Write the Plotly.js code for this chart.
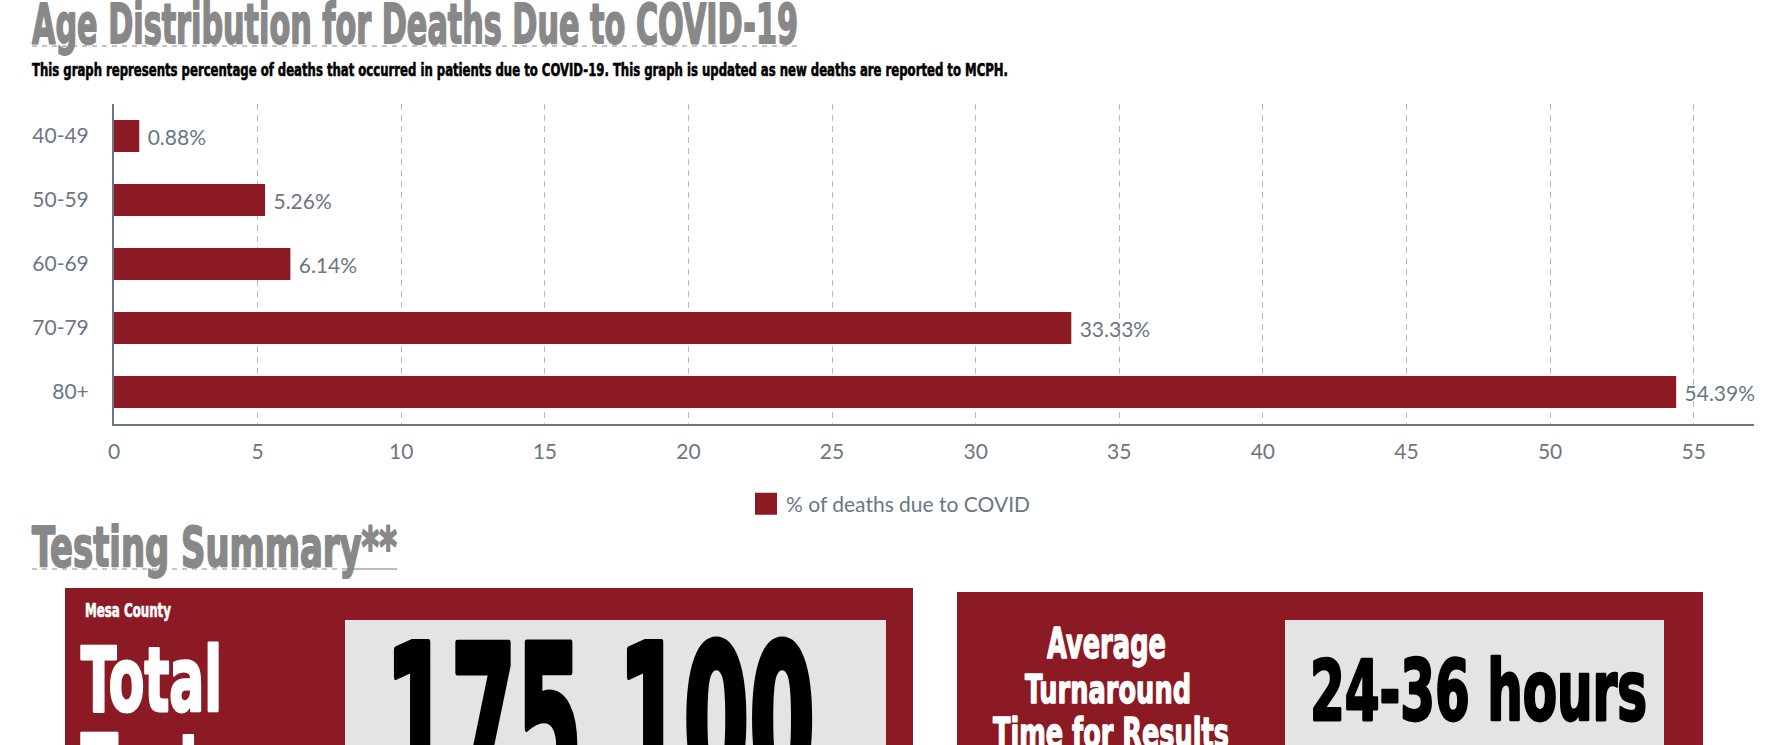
<!DOCTYPE html>
<html>
<head>
<meta charset="utf-8">
<script src="https://cdn.plot.ly/plotly-3.0.1.min.js"></script>
<style>
  html, body { margin:0; padding:0; background:#ffffff; width:1781px; height:745px; overflow:hidden; }
  #chart { position:absolute; left:0; top:0; width:1781px; height:540px; }
  #overlay { position:absolute; left:0; top:0; width:1781px; height:745px; pointer-events:none; }
</style>
</head>
<body>
<div id="chart"></div>
<svg id="overlay" xmlns="http://www.w3.org/2000/svg" width="1781" height="745"></svg>
<script>
// ---------------- data ----------------
const ageGroups = ['40-49', '50-59', '60-69', '70-79', '80+'];
const deathPct = [0.88, 5.26, 6.14, 33.33, 54.39];
const xTickVals = [0, 5, 10, 15, 20, 25, 30, 35, 40, 45, 50, 55];
const seriesName = '% of deaths due to COVID';

const pageTitle = 'Age Distribution for Deaths Due to COVID-19';
const pageSubtitle = 'This graph represents percentage of deaths that occurred in patients due to COVID-19. This graph is updated as new deaths are reported to MCPH.';
const sectionTitle = 'Testing Summary**';
const countyLabel = 'Mesa County';
const totalLabelLines = ['Total', 'Tests'];
const totalTests = '175,100';
const turnaroundLabelLines = ['Average', 'Turnaround', 'Time for Results'];
const turnaroundValue = '24-36 hours';

// ---------------- chart ----------------
const RED = '#8b1a23';
const GREY = '#6b7683';
const FS = 21;

const trace = {
  type: 'bar',
  orientation: 'h',
  name: seriesName,
  y: ageGroups,
  x: deathPct,
  marker: { color: RED },
  text: deathPct.map(v => ' ' + v.toFixed(2) + '%'),
  textposition: 'outside',
  constraintext: 'none',
  cliponaxis: false,
  textfont: { family: 'Lato', size: FS, color: GREY },
  hoverinfo: 'none'
};

const layout = {
  width: 1781,
  height: 540,
  margin: { l: 114, r: 27, t: 104, b: 116, pad: 0 },
  paper_bgcolor: 'rgba(0,0,0,0)',
  plot_bgcolor: 'rgba(0,0,0,0)',
  font: { family: 'Lato', size: FS, color: GREY },
  bargap: 0.5,
  showlegend: true,
  legend: {
    orientation: 'h',
    x: 0.5, xanchor: 'center', xref: 'container',
    y: 1 - 504 / 540, yanchor: 'middle', yref: 'container',
    font: { family: 'Lato', size: FS, color: GREY }
  },
  xaxis: {
    range: [0, 57.1],
    tickmode: 'array',
    tickvals: xTickVals,
    showgrid: true,
    gridcolor: '#bababa',
    gridwidth: 1,
    griddash: '6px,5px',
    zeroline: false,
    showline: true,
    linecolor: '#6e7884',
    linewidth: 2,
    ticks: 'outside',
    ticklen: 8,
    tickcolor: 'rgba(0,0,0,0)',
    tickfont: { family: 'Lato', size: FS, color: GREY },
    fixedrange: true
  },
  yaxis: {
    type: 'category',
    autorange: 'reversed',
    showgrid: false,
    zeroline: false,
    showline: true,
    linecolor: '#6e7884',
    linewidth: 2,
    ticks: 'outside',
    ticklen: 19,
    tickcolor: 'rgba(0,0,0,0)',
    tickfont: { family: 'Lato', size: FS, color: GREY },
    fixedrange: true
  }
};

Plotly.newPlot('chart', [trace], layout, { displayModeBar: false, staticPlot: true }).then(() => {
  document.querySelectorAll('#chart .legendpoints path').forEach(p => {
    p.setAttribute('d', 'M11,11H-11V-11H11Z');
  });
});

// ---------------- page decoration (headings & summary cards) ----------------
const NS = 'http://www.w3.org/2000/svg';
const svg = document.getElementById('overlay');
const HEAD_FONT = "'Liberation Sans Narrow', 'DejaVu Sans Condensed', 'Arial Narrow', sans-serif";

function capRatio(family) {
  const ctx = document.createElement('canvas').getContext('2d');
  ctx.font = 'bold 200px ' + family;
  const m = ctx.measureText('H');
  const r = m.actualBoundingBoxAscent / 200;
  return (r > 0.5 && r < 0.9) ? r : 0.72;
}
const CAP = capRatio(HEAD_FONT);

function el(tag, attrs) {
  const e = document.createElementNS(NS, tag);
  for (const k in attrs) e.setAttribute(k, attrs[k]);
  svg.appendChild(e);
  return e;
}
function label(str, x, baseline, width, cap, fill, anchor) {
  const fs = cap / CAP;
  const t = el('text', {
    x: x, y: baseline,
    'font-family': HEAD_FONT, 'font-weight': 'bold',
    'font-size': fs.toFixed(2),
    fill: fill, stroke: fill, 'stroke-width': (cap * 0.045).toFixed(2),
    'stroke-linejoin': 'round',
    textLength: width, lengthAdjust: 'spacingAndGlyphs'
  });
  if (anchor) t.setAttribute('text-anchor', anchor);
  t.textContent = str;
  return t;
}

// main title + underline
el('line', { x1: 32, y1: 46, x2: 798, y2: 46, stroke: '#c4c4c4', 'stroke-width': 2, 'stroke-dasharray': '5,5' });
label(pageTitle, 32, 43, 766, 40, '#888888');
// subtitle
label(pageSubtitle, 32, 76, 976, 13, '#000000');

// section title + underline
el('line', { x1: 32, y1: 569, x2: 352, y2: 569, stroke: '#c4c4c4', 'stroke-width': 2, 'stroke-dasharray': '5,5' });
el('line', { x1: 353, y1: 569, x2: 397, y2: 569, stroke: '#bdbdbd', 'stroke-width': 2 });
label(sectionTitle, 32, 566, 365, 40, '#888888');

// card 1: total tests
el('rect', { x: 65, y: 588, width: 848, height: 200, fill: '#8b1a24' });
el('rect', { x: 345, y: 620, width: 541, height: 160, fill: '#e4e4e4' });
label(countyLabel, 85, 617, 86, 14, '#ffffff');
label(totalLabelLines[0], 81, 711, 141, 65, '#ffffff');
label(totalLabelLines[1], 81, 798, 155, 65, '#ffffff');
label(totalTests, 385, 795, 430, 152, '#000000');

// card 2: turnaround time
el('rect', { x: 957, y: 592, width: 746, height: 200, fill: '#8b1a24' });
el('rect', { x: 1285, y: 620, width: 379, height: 160, fill: '#e4e4e4' });
label(turnaroundLabelLines[0], 1047, 658, 119, 31, '#ffffff');
label(turnaroundLabelLines[1], 1025, 703, 166, 29, '#ffffff');
label(turnaroundLabelLines[2], 993, 747, 236, 30, '#ffffff');
label(turnaroundValue, 1310, 720, 337, 61, '#000000');
</script>
</body>
</html>
